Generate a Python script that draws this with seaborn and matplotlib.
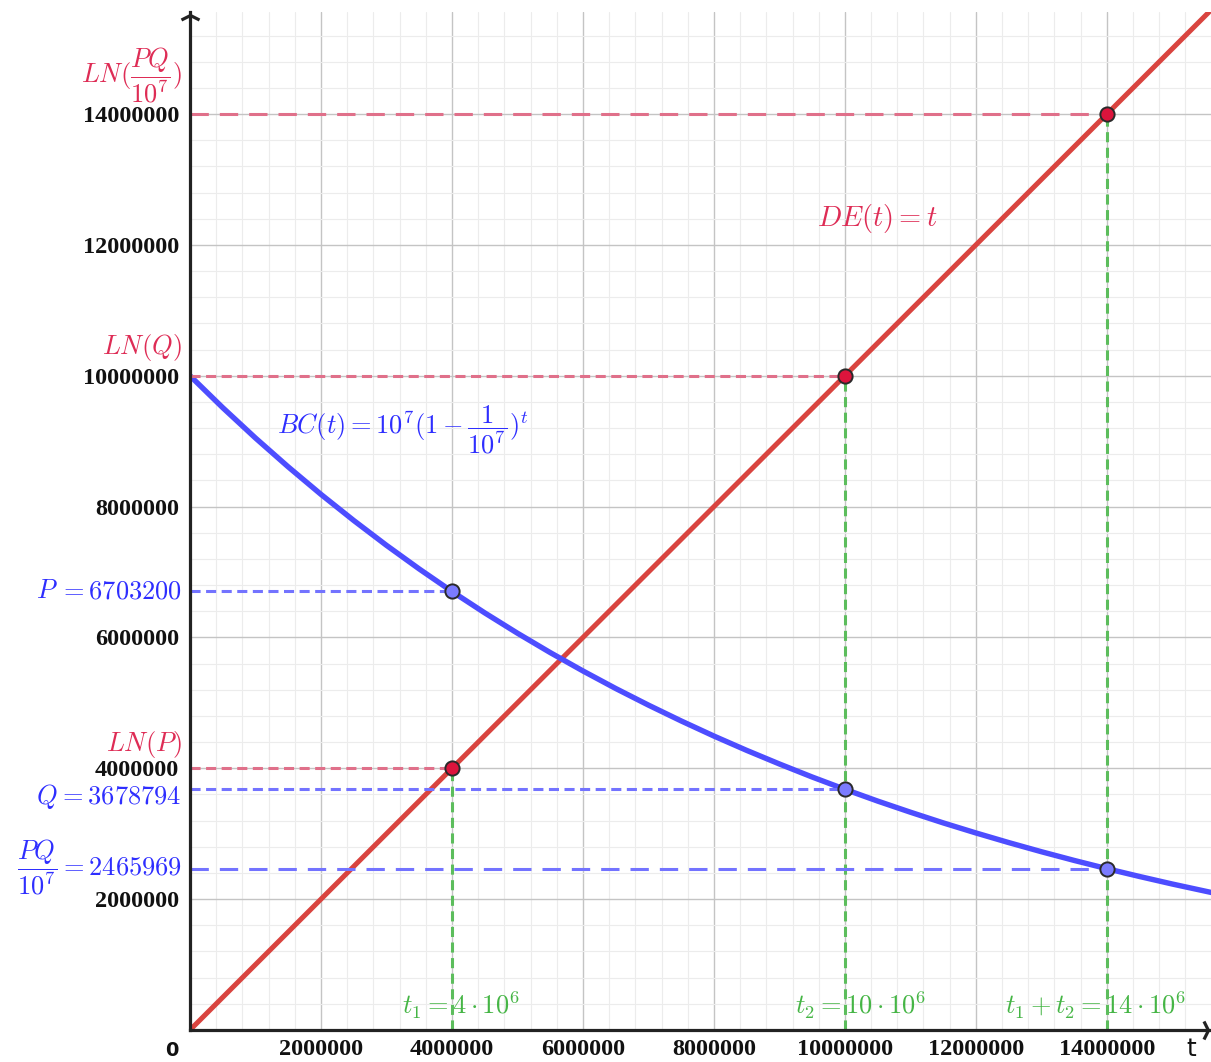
import matplotlib.pyplot as plt
import seaborn as sns
from matplotlib.path import Path
from matplotlib.ticker import MultipleLocator

# curve values (step 0.5e6)
BC_T = [0, 0.5e6, 1e6, 1.5e6, 2e6, 2.5e6, 3e6, 3.5e6, 4e6, 4.5e6, 5e6, 5.5e6, 6e6, 6.5e6,
        7e6, 7.5e6, 8e6, 8.5e6, 9e6, 9.5e6, 10e6, 10.5e6, 11e6, 11.5e6, 12e6, 12.5e6,
        13e6, 13.5e6, 14e6, 14.5e6, 15e6, 15.6e6]
BC_Y = [10.000e6, 9.512e6, 9.048e6, 8.607e6, 8.187e6, 7.788e6, 7.408e6, 7.047e6, 6.703e6,
        6.376e6, 6.065e6, 5.769e6, 5.488e6, 5.220e6, 4.966e6, 4.724e6, 4.493e6, 4.274e6,
        4.066e6, 3.867e6, 3.679e6, 3.499e6, 3.329e6, 3.166e6, 3.012e6, 2.865e6, 2.725e6,
        2.592e6, 2.466e6, 2.346e6, 2.231e6, 2.101e6]
DE_T = [0, 15.6e6]
DE_Y = [0, 15.6e6]

T_POINTS = [4e6, 10e6, 14e6]
LN_POINTS = [4e6, 10e6, 14e6]
BC_POINTS = [6703200, 3678794, 2465969]

TICKS = [2e6, 4e6, 6e6, 8e6, 10e6, 12e6, 14e6]
TICK_LABELS = ["2000000", "4000000", "6000000", "8000000", "10000000", "12000000", "14000000"]

LN_LABELS = [r"$LN(P)$", r"$LN(Q)$", r"$LN(\dfrac{PQ}{10^7})$"]
BC_NAMES = [r"$P$", r"$Q$", r"$\dfrac{PQ}{10^7}$"]
BC_VALUES = [r"$= 6703200$", r"$= 3678794$", r"$= 2465969$"]
T_LABELS = [r"$t_1 = 4 \cdot 10^6$", r"$t_2 = 10 \cdot 10^6$", r"$t_1 + t_2 = 14 \cdot 10^6$"]

X_MAX = 15.59e6
Y_MAX = 15.56e6

RED = "#D9443F"
RED_PT = "#DC143C"
RED_TXT = "#DE2C55"
RED_DASH = "#E0708A"
BLUE = "#4D4DFF"
BLUE_PT = "#7B7BFF"
BLUE_TXT = "#2E2EFF"
BLUE_DASH = "#7373FF"
GREEN_DASH = "#5CBD5C"
GREEN_TXT = "#45B545"

SHORT = (0, (3.3, 1.8))
LONG = (0, (6.0, 3.6))


def main() -> None:
	sns.set_style("white")
	plt.rcParams["font.family"] = ["DejaVu Sans"]
	plt.rcParams["mathtext.fontset"] = "cm"

	fig = plt.figure(figsize=(12.11, 10.62), dpi=100)
	ax = fig.add_axes([190 / 1211, 32 / 1062, 1021 / 1211, 1018 / 1062])
	ax.set_xlim(0, X_MAX)
	ax.set_ylim(0, Y_MAX)

	# ticks and grid
	tick_font = dict(fontfamily="Liberation Serif", fontweight="bold", fontsize=17.5, color="#111111")
	ax.set_xticks(TICKS, labels=TICK_LABELS, **tick_font)
	ax.set_yticks(TICKS, labels=TICK_LABELS, **tick_font)
	ax.xaxis.set_minor_locator(MultipleLocator(4e5))
	ax.yaxis.set_minor_locator(MultipleLocator(4e5))
	ax.grid(which="major", color="#C4C4C4", lw=1.0, zorder=0)
	ax.grid(which="minor", color="#ECECEC", lw=0.8, zorder=0)
	ax.set_axisbelow(True)
	ax.tick_params(which="both", length=0)
	ax.tick_params(axis="x", pad=6.5)
	ax.tick_params(axis="y", pad=8)

	for side in ("top", "right"):
		ax.spines[side].set_visible(False)
	for side in ("left", "bottom"):
		ax.spines[side].set_color("#222222")
		ax.spines[side].set_linewidth(2.3)
		ax.spines[side].set_zorder(5)

	# curves
	sns.lineplot(x=DE_T, y=DE_Y, ax=ax, color=RED, lw=3.6, zorder=3, estimator=None, sort=False)
	sns.lineplot(x=BC_T, y=BC_Y, ax=ax, color=BLUE, lw=3.9, zorder=3, estimator=None, sort=False)

	# guide lines
	for i, (t, ln, bc) in enumerate(zip(T_POINTS, LN_POINTS, BC_POINTS)):
		style = LONG if i == 2 else SHORT
		ax.plot([0, t], [ln, ln], color=RED_DASH, lw=2.2, ls=style, zorder=4)
		ax.plot([0, t], [bc, bc], color=BLUE_DASH, lw=2.2, ls=style, zorder=4)
		ax.plot([t, t], [0, ln], color=GREEN_DASH, lw=2.2, ls=SHORT, zorder=4)

	# points
	sns.scatterplot(x=T_POINTS, y=LN_POINTS, ax=ax, color=RED_PT, s=105,
		edgecolor="#2a2a2a", linewidth=1.4, zorder=6, clip_on=False)
	sns.scatterplot(x=T_POINTS, y=BC_POINTS, ax=ax, color=BLUE_PT, s=105,
		edgecolor="#2a2a2a", linewidth=1.4, zorder=6, clip_on=False)

	# labels on the left
	ln_offsets = [17, 20, 28]
	for ln, label, dy in zip(LN_POINTS, LN_LABELS, ln_offsets):
		ax.annotate(label, xy=(0, ln), xytext=(-6, dy), textcoords="offset points",
			ha="right", va="center", color=RED_TXT, fontsize=19, annotation_clip=False)
	bc_offsets = [0, -5, 1]
	for bc, name, value, dy in zip(BC_POINTS, BC_NAMES, BC_VALUES, bc_offsets):
		val = ax.annotate(value, xy=(0, bc), xytext=(-6, dy), textcoords="offset points",
			ha="right", va="center", color=BLUE_TXT, fontsize=19, annotation_clip=False)
		ax.annotate(name, xy=(0, 0.5), xycoords=val, xytext=(-0.5, 0),
			textcoords="offset points", ha="right", va="center", color=BLUE_TXT,
			fontsize=19, annotation_clip=False)

	# labels near the t axis
	t_offsets = [6.5, 11, -8]
	for t, label, dx in zip(T_POINTS, T_LABELS, t_offsets):
		ax.annotate(label, xy=(t, 0), xytext=(dx, 18), textcoords="offset points",
			ha="center", va="center", color=GREEN_TXT, fontsize=19)

	# function labels
	ax.annotate(r"$DE(t) = t$", xy=(10.49e6, 12.41e6), ha="center", va="center",
		color=RED_TXT, fontsize=20.5)
	ax.annotate(r"$BC(t) = 10^7(1 - \dfrac{1}{10^7})^t$", xy=(3.25e6, 9.18e6),
		ha="center", va="center", color=BLUE_TXT, fontsize=19)

	# axis arrows
	up = Path([(-1, -0.5), (0, 0), (1, -0.5)], [Path.MOVETO, Path.LINETO, Path.LINETO])
	right = Path([(-0.5, 1), (0, 0), (-0.5, -1)], [Path.MOVETO, Path.LINETO, Path.LINETO])
	ax.plot(0, 0.997, marker=up, ms=13, mfc="none", mec="#222222", mew=2.3,
		transform=ax.get_xaxis_transform(), clip_on=False, zorder=7)
	ax.plot(0.997, 0, marker=right, ms=13, mfc="none", mec="#222222", mew=2.3,
		transform=ax.get_yaxis_transform(), clip_on=False, zorder=7)

	ax.annotate("0", xy=(0, 0), xytext=(-13, -15), textcoords="offset points",
		ha="center", va="center", fontsize=14, fontweight="bold", color="#111111",
		annotation_clip=False)
	ax.annotate("t", xy=(1, 0), xycoords="axes fraction", xytext=(-14, -14),
		textcoords="offset points", ha="center", va="center", fontsize=18,
		color="#111111", annotation_clip=False)

	ax.set_xlabel("")
	ax.set_ylabel("")
	fig.savefig("out.png", dpi=100)
	plt.close(fig)


if __name__ == "__main__":
	main()
